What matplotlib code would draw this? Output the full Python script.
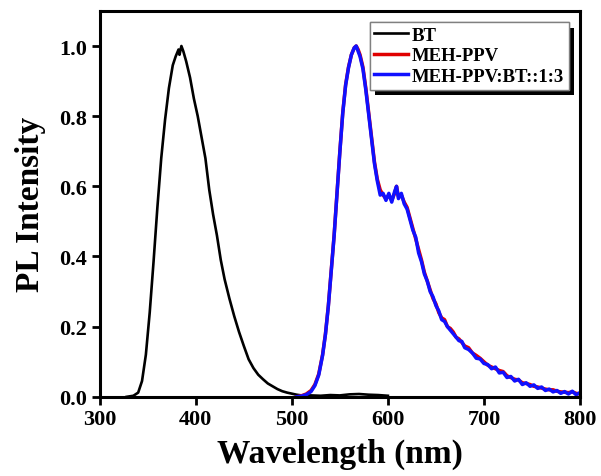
import numpy as np
import matplotlib as mpl
mpl.use('Agg')
from matplotlib import pyplot as plt
import matplotlib.patheffects as pe

# ------------------- Data ----------------------
bt_wl = [328, 335, 340, 344, 348, 352, 356, 360, 364, 368, 372, 376, 379, 382, 383, 385, 387,
         390, 394, 398, 402, 406, 410, 414, 418, 422, 426, 430, 435, 440, 445, 450, 455, 460,
         465, 470, 475, 480, 485, 490, 495, 500, 505, 510, 520, 530, 540, 550, 560, 570, 580,
         590, 600]
bt_pl = [0.0, 0.003, 0.012, 0.045, 0.12, 0.24, 0.385, 0.54, 0.68, 0.79, 0.88, 0.945, 0.97, 0.99,
         0.975, 1.0, 0.985, 0.956, 0.91, 0.85, 0.80, 0.74, 0.68, 0.59, 0.52, 0.46, 0.39, 0.335,
         0.28, 0.23, 0.185, 0.145, 0.107, 0.082, 0.063, 0.05, 0.038, 0.03, 0.022, 0.016, 0.012,
         0.009, 0.006, 0.004, 0.004, 0.003, 0.005, 0.004, 0.007, 0.008, 0.006, 0.005, 0.003]

meh_wl = [505, 510, 515, 520, 524, 528, 532, 535, 538, 541, 544, 547, 550, 553, 556, 559, 562,
          565, 567, 569, 571, 574, 577, 580, 583, 586, 589, 592, 595, 598, 601, 604, 607, 609,
          611, 614, 617, 620, 623, 626, 629, 632, 635, 638, 641, 644, 647, 650, 653, 656, 659,
          662, 665, 668, 671, 674, 677, 680, 684, 688, 692, 696, 700, 704, 708, 712, 716, 720,
          724, 728, 732, 736, 740, 744, 748, 752, 756, 760, 764, 768, 772, 776, 780, 784, 788,
          792, 796, 800]
meh_pl = [0.0, 0.003, 0.008, 0.018, 0.035, 0.065, 0.12, 0.18, 0.26, 0.36, 0.46, 0.58, 0.70,
          0.81, 0.89, 0.94, 0.975, 0.995, 1.0, 0.99, 0.975, 0.94, 0.88, 0.81, 0.74, 0.67, 0.62,
          0.59, 0.575, 0.565, 0.575, 0.56, 0.58, 0.60, 0.57, 0.575, 0.555, 0.54, 0.51, 0.48,
          0.45, 0.42, 0.39, 0.355, 0.33, 0.305, 0.28, 0.265, 0.24, 0.225, 0.22, 0.20, 0.195,
          0.185, 0.17, 0.165, 0.155, 0.145, 0.14, 0.125, 0.118, 0.11, 0.10, 0.09, 0.085, 0.08,
          0.075, 0.072, 0.06, 0.055, 0.05, 0.048, 0.04, 0.038, 0.035, 0.03, 0.028, 0.025, 0.022,
          0.02, 0.02, 0.016, 0.014, 0.013, 0.012, 0.014, 0.01, 0.008]
blend_pl = [0.0, 0.002, 0.006, 0.015, 0.032, 0.062, 0.118, 0.178, 0.258, 0.358, 0.458, 0.578,
            0.698, 0.808, 0.888, 0.938, 0.975, 0.995, 1.0, 0.985, 0.97, 0.935, 0.875, 0.805,
            0.735, 0.665, 0.615, 0.575, 0.58, 0.56, 0.58, 0.555, 0.585, 0.60, 0.565, 0.58, 0.55,
            0.535, 0.505, 0.475, 0.455, 0.41, 0.385, 0.35, 0.33, 0.30, 0.285, 0.26, 0.245, 0.22,
            0.215, 0.20, 0.19, 0.18, 0.17, 0.16, 0.158, 0.14, 0.135, 0.125, 0.11, 0.108, 0.095,
            0.092, 0.08, 0.085, 0.068, 0.07, 0.055, 0.058, 0.045, 0.05, 0.035, 0.04, 0.03, 0.034,
            0.024, 0.028, 0.018, 0.022, 0.014, 0.018, 0.01, 0.015, 0.008, 0.016, 0.006, 0.012]

series_names = ['BT', 'MEH-PPV', 'MEH-PPV:BT::1:3']
xticks = [300, 400, 500, 600, 700, 800]
yticks = [0.0, 0.2, 0.4, 0.6, 0.8, 1.0]

# ------------------- FONT setup ----------------------
plt.rcParams['font.family'] = 'Liberation Serif'
plt.rcParams['font.weight'] = 'bold'

fig = plt.figure(figsize=(6.01, 4.77), dpi=100)
ax = fig.add_axes([0.166, 0.166, 0.799, 0.809])

ax.plot(bt_wl, bt_pl, color='black', linewidth=1.9, label=series_names[0])
ax.plot(meh_wl, meh_pl, color='#e00000', linewidth=2.5, label=series_names[1])
ax.plot(meh_wl, blend_pl, color='#1010ff', linewidth=2.5, label=series_names[2])

ax.set_xlim(300, 800)
ax.set_ylim(0, 1.1)
ax.set_xticks(xticks)
ax.set_yticks(yticks)
ax.set_yticklabels(['%.1f' % v for v in yticks])
ax.tick_params(direction='out', length=6, width=2, labelsize=16, pad=3)
for lab in ax.get_xticklabels() + ax.get_yticklabels():
    lab.set_fontweight('bold')
for s in ax.spines.values():
    s.set_linewidth(2.2)

ax.set_xlabel('Wavelength (nm)', fontsize=24, fontweight='bold', labelpad=6)
ax.set_ylabel('PL Intensity', fontsize=24, fontweight='bold', labelpad=10)

leg = ax.legend(loc='upper right', fontsize=13.5, frameon=True, fancybox=False,
                handlelength=1.8, handletextpad=0.2, borderpad=0.25, labelspacing=0.18,
                borderaxespad=0.6, framealpha=1)
frame = leg.get_frame()
frame.set_edgecolor('0.5')
frame.set_linewidth(1.0)
frame.set_path_effects([pe.withSimplePatchShadow(offset=(4, -4), shadow_rgbFace='k', alpha=1.0),
                        pe.Normal()])
for t in leg.get_texts():
    t.set_fontweight('bold')

plt.savefig('out.png', dpi=100)
